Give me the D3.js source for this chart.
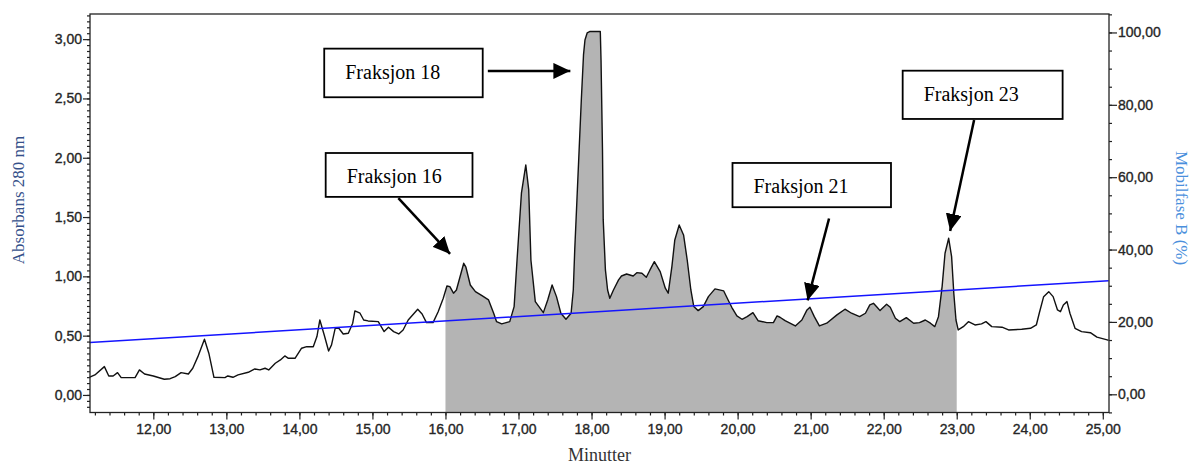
<!DOCTYPE html>
<html>
<head>
<meta charset="utf-8">
<script src="https://cdn.jsdelivr.net/npm/d3@7/dist/d3.min.js"></script>
<style>
  html, body { margin: 0; padding: 0; background: #fff; }
  #chart { width: 1192px; height: 464px; }
</style>
</head>
<body>
<div id="chart"></div>
<script>
// Chromatogram: retention time (min) vs absorbance at 280 nm
const minutter = [
  11.13, 11.20, 11.33, 11.39, 11.45, 11.51, 11.56, 11.75, 11.81, 11.88,
  12.00, 12.15, 12.23, 12.30, 12.38, 12.48, 12.54, 12.61, 12.70, 12.76,
  12.83, 12.98, 13.02, 13.09, 13.16, 13.30, 13.39, 13.46, 13.53, 13.58,
  13.67, 13.74, 13.80, 13.85, 13.94, 14.03, 14.10, 14.19, 14.24, 14.28,
  14.34, 14.40, 14.44, 14.49, 14.54, 14.60, 14.67, 14.73, 14.76, 14.83,
  14.88, 14.94, 15.08, 15.16, 15.22, 15.29, 15.36, 15.42, 15.49, 15.62,
  15.68, 15.74, 15.83, 15.90, 15.97, 16.02, 16.06, 16.11, 16.15, 16.25,
  16.28, 16.34, 16.41, 16.50, 16.59, 16.66, 16.70, 16.77, 16.88, 16.94,
  16.98, 17.04, 17.10, 17.14, 17.17, 17.23, 17.34, 17.40, 17.46, 17.52,
  17.58, 17.65, 17.72, 17.75, 17.77, 17.80, 17.83, 17.86, 17.89, 17.91,
  17.94, 17.98, 18.12, 18.13, 18.15, 18.16, 18.19, 18.22, 18.25, 18.30,
  18.37, 18.41, 18.48, 18.57, 18.62, 18.69, 18.75, 18.80, 18.86, 18.94,
  19.01, 19.05, 19.10, 19.14, 19.20, 19.26, 19.31, 19.36, 19.40, 19.46,
  19.53, 19.60, 19.69, 19.81, 19.87, 19.92, 19.99, 20.06, 20.13, 20.21,
  20.28, 20.40, 20.49, 20.54, 20.58, 20.65, 20.79, 20.88, 20.95, 20.99,
  21.05, 21.12, 21.22, 21.36, 21.47, 21.56, 21.67, 21.75, 21.81, 21.86,
  21.91, 21.95, 22.04, 22.09, 22.16, 22.22, 22.31, 22.41, 22.49, 22.57,
  22.64, 22.70, 22.75, 22.80, 22.84, 22.89, 22.93, 22.96, 22.99, 23.02,
  23.09, 23.16, 23.25, 23.34, 23.40, 23.48, 23.62, 23.71, 23.89, 24.01,
  24.09, 24.13, 24.19, 24.26, 24.32, 24.38, 24.42, 24.46, 24.51, 24.55,
  24.62, 24.71, 24.83, 24.92, 25.06, 25.08
];
const absorbans = [
  0.150, 0.169, 0.239, 0.160, 0.160, 0.188, 0.146, 0.146, 0.211, 0.177,
  0.160, 0.132, 0.137, 0.154, 0.188, 0.177, 0.225, 0.323, 0.470, 0.352,
  0.149, 0.146, 0.160, 0.149, 0.169, 0.191, 0.219, 0.211, 0.225, 0.211,
  0.267, 0.295, 0.329, 0.309, 0.309, 0.394, 0.407, 0.407, 0.492, 0.632,
  0.506, 0.371, 0.422, 0.562, 0.562, 0.514, 0.520, 0.605, 0.708, 0.689,
  0.632, 0.624, 0.618, 0.534, 0.571, 0.534, 0.514, 0.548, 0.632, 0.723,
  0.683, 0.610, 0.610, 0.702, 0.815, 0.919, 0.913, 0.858, 0.885, 1.110,
  1.077, 0.927, 0.871, 0.837, 0.801, 0.689, 0.618, 0.599, 0.618, 0.745,
  1.138, 1.701, 1.939, 1.729, 1.138, 0.787, 0.694, 0.801, 0.927, 0.829,
  0.689, 0.638, 0.689, 0.885, 1.223, 1.644, 2.066, 2.487, 2.867, 2.993,
  3.052, 3.065, 3.065, 2.825, 2.066, 1.476, 1.054, 0.885, 0.815, 0.885,
  0.970, 1.003, 1.020, 1.003, 1.031, 1.026, 0.992, 1.054, 1.124, 1.040,
  0.900, 0.858, 1.082, 1.307, 1.433, 1.349, 1.138, 0.885, 0.745, 0.711,
  0.745, 0.829, 0.894, 0.877, 0.801, 0.739, 0.666, 0.638, 0.660, 0.694,
  0.626, 0.610, 0.610, 0.666, 0.655, 0.626, 0.582, 0.632, 0.717, 0.739,
  0.660, 0.582, 0.605, 0.675, 0.723, 0.689, 0.660, 0.689, 0.759, 0.773,
  0.739, 0.711, 0.765, 0.739, 0.647, 0.618, 0.652, 0.605, 0.610, 0.632,
  0.605, 0.576, 0.660, 0.913, 1.195, 1.321, 1.166, 0.858, 0.632, 0.548,
  0.576, 0.618, 0.590, 0.599, 0.618, 0.576, 0.571, 0.548, 0.554, 0.562,
  0.590, 0.689, 0.829, 0.871, 0.829, 0.717, 0.702, 0.759, 0.787, 0.689,
  0.562, 0.534, 0.525, 0.487, 0.464, 0.460
];

// Mobile phase B gradient (%)
const gradientMin = [11.13, 25.08];
const gradientPct = [14.3, 31.4];

// Collected fraction window (min)
const fractionWindow = [16.0, 23.0];
// Peak that belongs to fraction 23 (lighter shade above gradient line)
const peak23Window = [22.75, 23.0];

// Axis ticks
const xTicks = [12, 13, 14, 15, 16, 17, 18, 19, 20, 21, 22, 23, 24, 25];
const yLeftTicks = [0, 0.5, 1.0, 1.5, 2.0, 2.5, 3.0];
const yRightTicks = [0, 20, 40, 60, 80, 100];

// Annotations: label, box corners [t0, t1] x [a0, a1], arrow from -> to (minutes, absorbance)
const annotations = [
  { label: 'Fraksjon 18', box: [14.34, 16.51, 2.92, 2.51], from: [16.58, 2.732], to: [17.71, 2.732] },
  { label: 'Fraksjon 16', box: [14.36, 16.37, 2.04, 1.67], from: [15.355, 1.659], to: [16.063, 1.189] },
  { label: 'Fraksjon 21', box: [19.93, 22.10, 1.956, 1.583], from: [21.252, 1.488], to: [20.958, 0.797] },
  { label: 'Fraksjon 23', box: [22.26, 24.45, 2.734, 2.327], from: [23.238, 2.319], to: [22.91, 1.383] }
];

class Chromatogram {
    constructor(config) {
        this.container = document.getElementById(config.container);
        this.width = config.width || 1192;
        this.height = config.height || 464;
        this.margin = { top: 14, right: 83, bottom: 51.5, left: 90 };
        this.fillColor = '#b4b4b4';
        this.lineColor = '#111';
        this.gradColor = '#1414ff';
        this.axisColor = '#222';
    }

    render() {
        const m = this.margin;
        const w = this.width, h = this.height;

        this.svg = d3.select(this.container)
            .append('svg')
            .attr('width', w)
            .attr('height', h)
            .style('background', '#fff');

        // Scales
        const x = d3.scaleLinear().domain([11.133, 25.085]).range([m.left, w - m.right]);
        const y = d3.scaleLinear().domain([-0.148, 3.212]).range([h - m.bottom, m.top]);
        const yB = d3.scaleLinear().domain([-5.03, 105.1]).range([h - m.bottom, m.top]);

        const trace = minutter.map((t, i) => ({ t: t, a: absorbans[i] }));
        const gradAt = d3.scaleLinear().domain(gradientMin).range(gradientPct);

        // Clip paths for the fraction window and peak 23
        const defs = this.svg.append('defs');
        defs.append('clipPath').attr('id', 'clip-frac')
            .append('rect')
            .attr('x', x(fractionWindow[0]))
            .attr('y', m.top)
            .attr('width', x(fractionWindow[1]) - x(fractionWindow[0]))
            .attr('height', h - m.top - m.bottom);
        defs.append('clipPath').attr('id', 'clip-p23')
            .append('rect')
            .attr('x', x(peak23Window[0]))
            .attr('y', m.top)
            .attr('width', x(peak23Window[1]) - x(peak23Window[0]))
            .attr('height', h - m.top - m.bottom);

        // Gray area under trace inside fraction window
        const area = d3.area()
            .x(d => x(d.t))
            .y0(h - m.bottom)
            .y1(d => y(d.a));
        this.svg.append('path')
            .datum(trace)
            .attr('clip-path', 'url(#clip-frac)')
            .attr('d', area)
            .style('fill', this.fillColor);

        // Lighter patch of peak 23 above gradient line
        const patch = d3.area()
            .x(d => x(d.t))
            .y0(d => yB(gradAt(d.t)))
            .y1(d => Math.min(y(d.a), yB(gradAt(d.t))));
        this.svg.append('path')
            .datum(trace)
            .attr('clip-path', 'url(#clip-p23)')
            .attr('d', patch)
            .style('fill', '#d8d5d0');

        // Absorbance trace
        this.svg.append('path')
            .datum(trace)
            .attr('d', d3.line().x(d => x(d.t)).y(d => y(d.a)))
            .style('fill', 'none')
            .style('stroke', this.lineColor)
            .style('stroke-width', 1.4)
            .style('stroke-linejoin', 'round');

        // Gradient line (right axis)
        this.svg.append('path')
            .datum(gradientMin.map((t, i) => ({ t: t, p: gradientPct[i] })))
            .attr('d', d3.line().x(d => x(d.t)).y(d => yB(d.p)))
            .style('fill', 'none')
            .style('stroke', this.gradColor)
            .style('stroke-width', 1.5);

        this.drawAxes(x, y, yB);
        this.drawAnnotations(x, y);
    }

    drawAxes(x, y, yB) {
        const m = this.margin;
        const w = this.width, h = this.height;
        const loc = d3.formatLocale({ decimal: ',', thousands: '.', grouping: [3], currency: ['', ''] });
        const fmt = loc.format('.2f');
        const font = '"Liberation Sans", Arial, sans-serif';

        const styleAxis = g => {
            g.select('.domain').remove();
            g.selectAll('line').style('stroke', this.axisColor).style('stroke-width', 1.2);
            g.selectAll('text')
                .style('font-family', font)
                .style('font-size', '14px')
                .style('fill', '#262626')
                .style('stroke', '#262626')
                .style('stroke-width', 0.35);
        };

        // Bottom axis: minor every 0.2 min
        this.svg.append('g')
            .attr('transform', `translate(0,${h - m.bottom})`)
            .call(d3.axisBottom(x).tickValues(d3.range(11.2, 25.05, 0.2)).tickSize(3).tickFormat(''))
            .call(styleAxis);
        this.svg.append('g')
            .attr('transform', `translate(0,${h - m.bottom})`)
            .call(d3.axisBottom(x).tickValues(xTicks).tickSize(7).tickPadding(5).tickFormat(fmt))
            .call(styleAxis);

        // Left axis: minor every 0.05
        this.svg.append('g')
            .attr('transform', `translate(${m.left},0)`)
            .call(d3.axisLeft(y).tickValues(d3.range(-0.1, 3.21, 0.05)).tickSize(3).tickFormat(''))
            .call(styleAxis);
        this.svg.append('g')
            .attr('transform', `translate(${m.left},0)`)
            .call(d3.axisLeft(y).tickValues(yLeftTicks).tickSize(7).tickPadding(1).tickFormat(fmt))
            .call(styleAxis);

        // Right axis: minor every 5 %
        this.svg.append('g')
            .attr('transform', `translate(${w - m.right},0)`)
            .call(d3.axisRight(yB).tickValues(d3.range(-5, 105.1, 5)).tickSize(3).tickFormat(''))
            .call(styleAxis);
        this.svg.append('g')
            .attr('transform', `translate(${w - m.right},0)`)
            .call(d3.axisRight(yB).tickValues(yRightTicks).tickSize(8).tickPadding(1).tickFormat(fmt))
            .call(styleAxis);

        // Frame
        this.svg.append('rect')
            .attr('x', m.left)
            .attr('y', m.top)
            .attr('width', w - m.left - m.right)
            .attr('height', h - m.top - m.bottom)
            .style('fill', 'none')
            .style('stroke', this.axisColor)
            .style('stroke-width', 1.3);

        const serif = '"Liberation Serif", "Times New Roman", serif';

        // Axis titles
        this.svg.append('text')
            .attr('transform', 'translate(23.5,200) rotate(-90)')
            .attr('text-anchor', 'middle')
            .style('font-family', serif)
            .style('font-size', '17px')
            .style('fill', '#34508a')
            .text('Absorbans 280 nm');

        this.svg.append('text')
            .attr('transform', 'translate(1176,208) rotate(90)')
            .attr('text-anchor', 'middle')
            .style('font-family', serif)
            .style('font-size', '17px')
            .style('fill', '#4a8fdc')
            .text('Mobilfase B (%)');

        this.svg.append('text')
            .attr('x', (m.left + w - m.right) / 2)
            .attr('y', 461)
            .attr('text-anchor', 'middle')
            .style('font-family', serif)
            .style('font-size', '18px')
            .style('fill', '#333')
            .text('Minutter');
    }

    drawAnnotations(x, y) {
        const serif = '"Liberation Serif", "Times New Roman", serif';

        this.svg.append('defs').append('marker')
            .attr('id', 'arrowhead')
            .attr('viewBox', '0 0 17 16')
            .attr('refX', 17)
            .attr('refY', 8)
            .attr('markerWidth', 17)
            .attr('markerHeight', 16)
            .attr('markerUnits', 'userSpaceOnUse')
            .attr('orient', 'auto')
            .append('path')
            .attr('d', 'M0,0 L17,8 L0,16 Z')
            .style('fill', '#000');

        const g = this.svg.selectAll('.annot')
            .data(annotations)
            .enter()
            .append('g')
            .attr('class', 'annot');

        g.append('rect')
            .attr('x', d => x(d.box[0]))
            .attr('y', d => y(d.box[2]))
            .attr('width', d => x(d.box[1]) - x(d.box[0]))
            .attr('height', d => y(d.box[3]) - y(d.box[2]))
            .style('fill', '#fff')
            .style('stroke', '#000')
            .style('stroke-width', 1.8);

        g.append('text')
            .attr('x', d => x(d.box[0]) + 21)
            .attr('y', d => y(d.box[2]) + 30)
            .style('font-family', serif)
            .style('font-size', '20px')
            .style('fill', '#000')
            .text(d => d.label);

        g.append('line')
            .attr('x1', d => x(d.from[0]))
            .attr('y1', d => y(d.from[1]))
            .attr('x2', d => x(d.to[0]))
            .attr('y2', d => y(d.to[1]))
            .attr('marker-end', 'url(#arrowhead)')
            .style('stroke', '#000')
            .style('stroke-width', 2.5);
    }
}

const chart = new Chromatogram({ container: 'chart', width: 1192, height: 464 });
chart.render();
</script>
</body>
</html>
